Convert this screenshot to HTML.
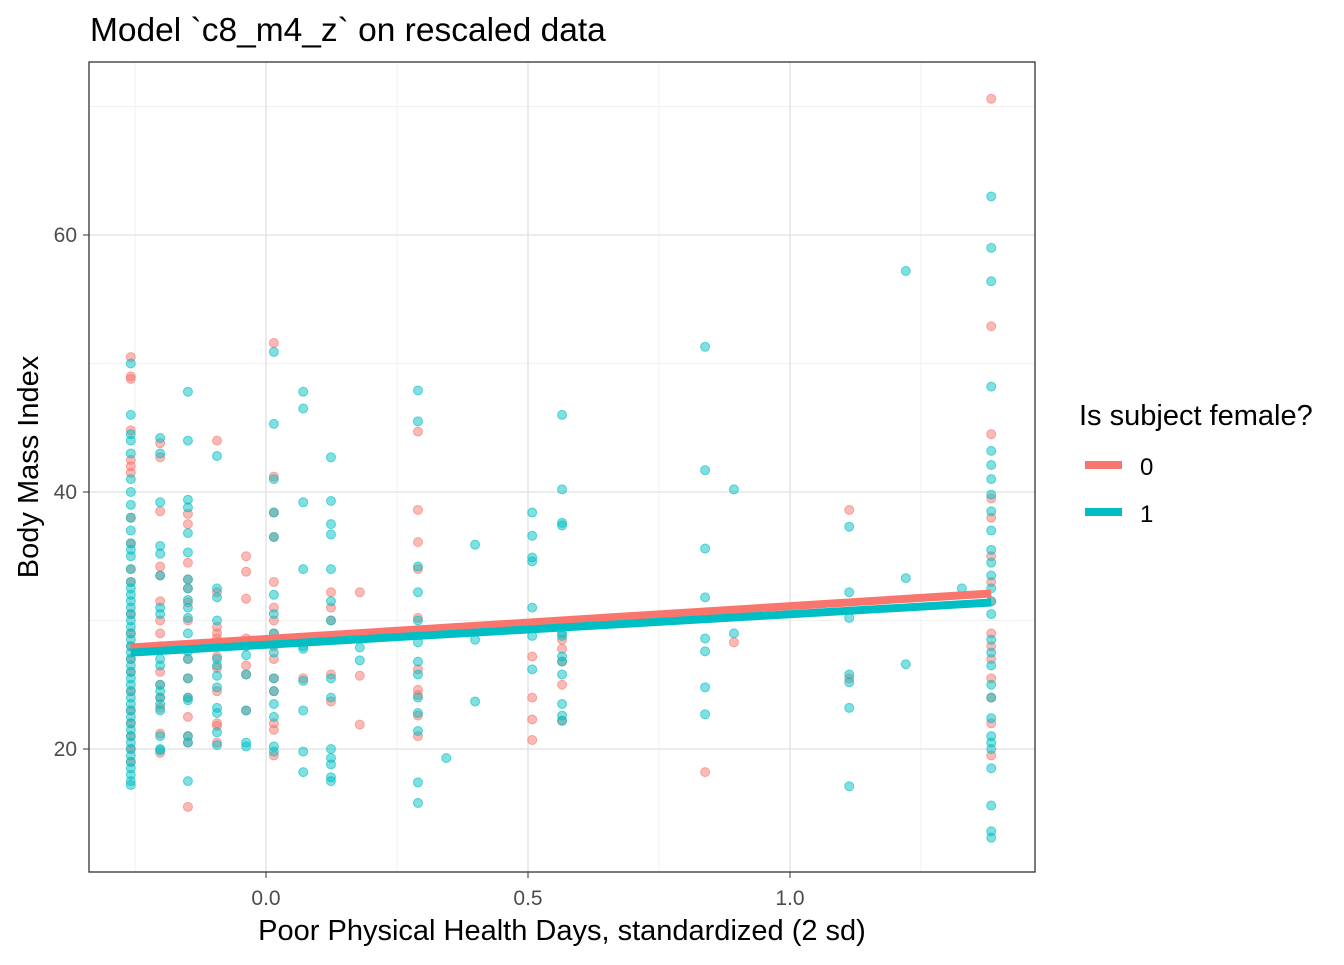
<!DOCTYPE html>
<html><head><meta charset="utf-8"><style>
body{margin:0;background:#fff;}
svg text{font-family:"Liberation Sans",sans-serif;}
</style></head><body>
<svg id="chart" width="1344" height="960">
<text x="90" y="41" font-size="33.5" fill="#000">Model `c8_m4_z` on rescaled data</text>
<g id="grid"></g>
<g id="pts"></g>
<g id="lines"></g>
<rect x="89" y="62" width="946" height="810" fill="none" stroke="#333" stroke-width="1.3"/>
<g id="axes"></g>
<text x="562" y="940" font-size="29" text-anchor="middle">Poor Physical Health Days, standardized (2 sd)</text>
<text transform="translate(38,467) rotate(-90)" font-size="29" text-anchor="middle">Body Mass Index</text>
<g>
<text x="1079" y="425" font-size="29">Is subject female?</text>
<g><line x1="1085" y1="465" x2="1122" y2="465" stroke="#F8766D" stroke-width="8"/><circle cx="1103" cy="465" r="4" fill="#F8766D"/><text x="1140" y="475" font-size="24">0</text></g>
<g><line x1="1085" y1="512" x2="1122" y2="512" stroke="#00BFC4" stroke-width="8"/><circle cx="1103" cy="512" r="4" fill="#00BFC4"/><text x="1140" y="522" font-size="24">1</text></g>
</g>
</svg>
<script>
const colX=[-0.258,-0.202,-0.149,-0.0935,-0.038,0.015,0.071,0.124,0.179,0.29,0.344,0.399,0.508,0.565,0.838,0.893,1.113,1.221,1.328,1.384];
const redVals=[
[50.5,49,48.8,44.8,42.5,42,41.5,38,36,34,33,30.5,29,28,27,26,24.5,23,22,21,20,19],
[43.8,42.7,38.5,34.2,33.5,31.5,30,29,26,25,24,23.2,21.2,19.7],
[38.3,37.5,34.5,33.2,32.5,31.4,30,27,25.5,24,22.5,21,20.5,15.5],
[44,32.2,29.5,29,28.6,28,27.2,26.3,24.5,22,21.8,20.5],
[35,33.8,31.7,28.6,26.5,25.8,23],
[51.6,41.2,38.4,36.5,33,31,30,29,28,27,25.5,24.5,22,21.5,19.5],
[25.5],
[32.2,31,30,25.8,23.7],
[32.2,25.7,21.9],
[44.7,38.6,36.1,34,30.2,29,26.2,24.6,24.2,22.6,21],
[],[],
[27.2,24,22.3,20.7],
[28.5,27.8,26.8,25,22.2],
[18.2],[28.3],[38.6,25.5],[],[],
[70.6,52.9,44.5,39.5,38,35,33,31.5,29,28,27,25.5,24,22,19.5]];
const tealVals=[
[17.2,17.5,18,18.5,19,19.5,20,20.5,21,21.5,22,22.5,23,23.5,24,24.5,25,25.5,26,26.5,27,27.5,28,28.5,29,29.5,30,30.5,31,31.5,32,32.5,33,34,35,35.5,36,37,38,39,40,41,43,44,44.5,46,50],
[44.2,43,39.2,35.8,35.2,33.5,31,30.5,28,27,26.5,25,24.5,24,23.5,23,21,20,19.9],
[47.8,44,39.4,38.8,36.8,35.3,33.2,32.5,31.6,31,30.2,29,28,27.6,27,25.5,24,23.8,21,20.5,17.5],
[42.8,32.5,31.8,30,28.2,27,26.5,25.7,24.8,23.2,22.8,21.3,20.3],
[28,27.3,25.8,23,20.5,20.2],
[50.9,45.3,41,38.4,36.5,32,30.5,29,27.5,25.5,24.5,23.5,22.5,20.2,19.8],
[47.8,46.5,39.2,34,28,27.8,25.3,23,19.8,18.2],
[42.7,39.3,37.5,36.7,34,31.5,30,25.5,24,20,19.3,18.8,17.8,17.5],
[27.9,26.9],
[47.9,45.5,34.2,32.2,30,28.3,26.8,25.8,24,22.8,21.4,17.4,15.8],
[19.3],[35.9,28.5,23.7],
[38.4,36.6,34.9,34.6,31,29.5,28.8,26.2],
[46,40.2,37.6,37.4,29,28.8,27.2,26.8,25.8,23.5,22.6,22.2],
[51.3,41.7,35.6,31.8,28.6,27.6,24.8,22.7],
[40.2,29],
[37.3,32.2,30.2,25.8,25.2,23.2,17.1],
[57.2,33.3,26.6],[32.5],
[63,59,56.4,48.2,43.2,42.1,41,39.8,38.5,37,35.5,34.5,33.5,32.5,31.5,30.5,28.5,27.5,26.5,25,24,22.4,21,20.5,20,18.5,15.6,13.6,13.1]];
const fitX=[-0.258,1.384];
const fitRed=[27.9,32.1];
const fitTeal=[27.5,31.4];
const xTicks=[0,0.5,1.0];
const xTickLabels=["0.0","0.5","1.0"];
const yTicks=[20,40,60];
const yTickLabels=["20","40","60"];
const xMinor=[-0.25,0.25,0.75,1.25];
const yMinor=[30,50,70];

const NS="http://www.w3.org/2000/svg";
const sx=v=>266+524*v;
const sy=v=>492-(v-40)*12.85;
function mk(tag,parent,attrs){const e=document.createElementNS(NS,tag);for(const k in attrs)e.setAttribute(k,attrs[k]);parent.appendChild(e);return e;}
const grid=document.getElementById('grid'),pts=document.getElementById('pts'),lines=document.getElementById('lines'),axes=document.getElementById('axes');
xMinor.forEach(v=>{const l=mk('line',grid,{x1:sx(v),x2:sx(v),y1:62,y2:872,stroke:'#f0f0f0','stroke-width':1});

});
yMinor.forEach(v=>{const l=mk('line',grid,{x1:89,x2:1035,y1:sy(v),y2:sy(v),stroke:'#f0f0f0','stroke-width':1});

});
xTicks.forEach((v,i)=>{const l=mk('line',grid,{x1:sx(v),x2:sx(v),y1:62,y2:872,stroke:'#e6e6e6','stroke-width':1.6});


const t=mk('line',axes,{x1:sx(v),x2:sx(v),y1:872,y2:878,stroke:'#333'});


const tx=mk('text',axes,{x:sx(v),y:905,'font-size':21,'text-anchor':'middle',fill:'#4d4d4d'});tx.textContent=xTickLabels[i];

});
yTicks.forEach((v,i)=>{const l=mk('line',grid,{x1:89,x2:1035,y1:sy(v),y2:sy(v),stroke:'#e6e6e6','stroke-width':1.6});


const t=mk('line',axes,{x1:83,x2:89,y1:sy(v),y2:sy(v),stroke:'#333'});


const tx=mk('text',axes,{x:77,y:sy(v)+7,'font-size':21,'text-anchor':'end',fill:'#4d4d4d'});tx.textContent=yTickLabels[i];

});
function drawPts(vals,color,name){colX.forEach((x,i)=>{vals[i].forEach(v=>{const c=mk('circle',pts,{cx:sx(x),cy:sy(v),r:4.5,fill:color,'fill-opacity':0.5,stroke:color,'stroke-opacity':0.6});

});});}
drawPts(redVals,'#F8766D','point-female-0');
drawPts(tealVals,'#00BFC4','point-female-1');
function drawLine(ys,color,name){const l=mk('line',lines,{x1:sx(fitX[0]),y1:sy(ys[0]),x2:sx(fitX[1]),y2:sy(ys[1]),stroke:color,'stroke-width':8});

}
drawLine(fitRed,'#F8766D','fit-line-0');
drawLine(fitTeal,'#00BFC4','fit-line-1');
</script>
</body></html>
